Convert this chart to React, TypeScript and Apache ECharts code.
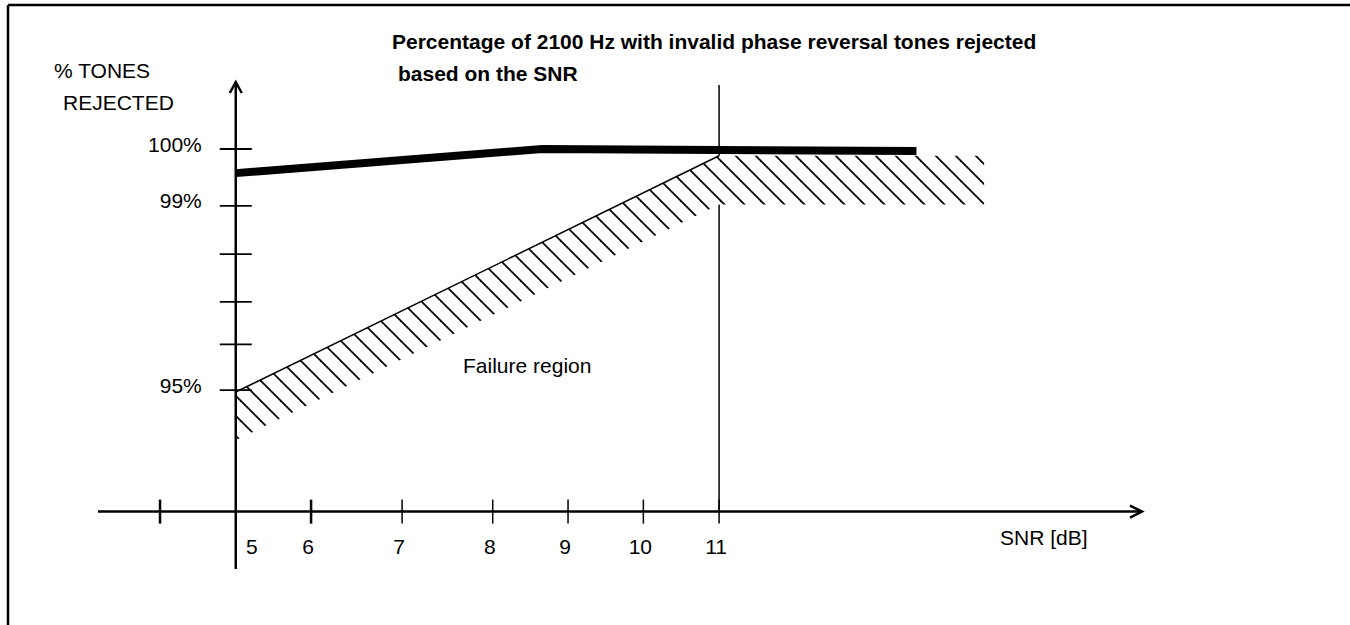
import React, { useEffect, useRef } from "react";
import * as echarts from "echarts";

// ---- axis extents (data units: SNR in dB, % tones rejected) ----
const X_MIN = 3.29;
const X_MAX = 16.25;
const Y_MIN = 91.29;
const Y_MAX = 101.39;
const X_AXIS_LEVEL = 92.48; // % level at which the SNR axis is drawn
const Y_AXIS_AT = 5; // SNR at which the % axis is drawn

// ---- ticks ----
const xTickValues = [4.06, 5.935, 7.065, 8.19, 9.125, 10.06, 11];
const xTickHeavy = [true, true, false, false, false, false, false];
const xLabelValues = [5, 5.935, 7.065, 8.19, 9.125, 10.06, 11];
const xLabels = ["5", "6", "7", "8", "9", "10", "11"];

const yTickValues = [100, 98.82, 97.82, 96.83, 95.95, 95];
const yTickLabels = ["100%", "99%", "", "", "", "95%"];

// ---- series ----
const rejectedX = [5, 8.8, 13.45];
const rejectedY = [99.5, 100.0, 99.96];

const bandX = [5, 11, 14.29];
const bandUpper = [94.96, 99.86, 99.86];
const bandLower = [93.96, 98.85, 98.85];

const thresholdX = 11;
const thresholdTop = 101.33;

const FONT = '"Liberation Sans", Arial, Helvetica, sans-serif';

function makeHatch(): HTMLCanvasElement {
  const c = document.createElement("canvas");
  c.width = 20;
  c.height = 20;
  const ctx = c.getContext("2d")!;
  ctx.fillStyle = "#ffffff";
  ctx.fillRect(0, 0, 20, 20);
  ctx.strokeStyle = "#000000";
  ctx.lineWidth = 1.8;
  for (const off of [-20, 0, 20]) {
    ctx.beginPath();
    ctx.moveTo(off - 2, -2);
    ctx.lineTo(off + 22, 22);
    ctx.stroke();
  }
  return c;
}

export default function App() {
  const ref = useRef<HTMLDivElement>(null);

  useEffect(() => {
    if (!ref.current) return;
    const chart = echarts.init(ref.current, undefined, { renderer: "svg" });
    const hatch = makeHatch();

    const txt = (text: string, x: number, y: number, align: string, extra: any = {}) => ({
      type: "text",
      style: {
        text,
        x,
        y,
        fill: "#000",
        fontSize: 21,
        fontFamily: FONT,
        align,
        textAlign: align,
        verticalAlign: "middle",
        textVerticalAlign: "middle",
        ...extra,
      },
    });

    const option: any = {
      animation: false,
      backgroundColor: "#ffffff",
      grid: { left: 98, right: 208, top: 82, bottom: 56 },
      xAxis: { type: "value", min: X_MIN, max: X_MAX, show: false },
      yAxis: { type: "value", min: Y_MIN, max: Y_MAX, show: false },
      graphic: [
        { type: "line", shape: { x1: 8, y1: 5, x2: 1350, y2: 5 }, style: { stroke: "#000", lineWidth: 2.5 } },
        { type: "line", shape: { x1: 8, y1: 5, x2: 8, y2: 625 }, style: { stroke: "#000", lineWidth: 2.5 } },
        {
          type: "text", x: 392, y: 41,
          style: { text: "Percentage of 2100 Hz with invalid phase reversal tones rejected", fill: "#000", fontSize: 21, fontWeight: "bold", fontFamily: FONT, textAlign: "left", textVerticalAlign: "middle" },
        },
        {
          type: "text", x: 398, y: 73,
          style: { text: "based on the SNR", fill: "#000", fontSize: 21, fontWeight: "bold", fontFamily: FONT, textAlign: "left", textVerticalAlign: "middle" },
        },
        { type: "text", x: 54, y: 70, style: { text: "% TONES", fill: "#000", fontSize: 21, fontFamily: FONT, textAlign: "left", textVerticalAlign: "middle" } },
        { type: "text", x: 63, y: 102, style: { text: "REJECTED", fill: "#000", fontSize: 21, fontFamily: FONT, textAlign: "left", textVerticalAlign: "middle" } },
        { type: "text", x: 463, y: 365, style: { text: "Failure region", fill: "#000", fontSize: 21, fontFamily: FONT, textAlign: "left", textVerticalAlign: "middle" } },
        { type: "text", x: 1000, y: 537, style: { text: "SNR [dB]", fill: "#000", fontSize: 21, fontFamily: FONT, textAlign: "left", textVerticalAlign: "middle" } },
      ],
      series: [
        {
          name: "threshold",
          type: "line",
          z: 1,
          symbol: "none",
          silent: true,
          data: [[thresholdX, X_AXIS_LEVEL], [thresholdX, thresholdTop]],
          lineStyle: { color: "#000", width: 1.5 },
        },
        {
          name: "Failure region",
          type: "custom",
          z: 2,
          silent: true,
          data: [[bandX[0], bandUpper[0]]],
          renderItem: (_p: any, api: any) => {
            const pts: number[][] = [];
            for (let i = 0; i < bandX.length; i++) pts.push(api.coord([bandX[i], bandUpper[i]]));
            for (let i = bandX.length - 1; i >= 0; i--) pts.push(api.coord([bandX[i], bandLower[i]]));
            return {
              type: "polygon",
              shape: { points: pts },
              style: { fill: { image: hatch, repeat: "repeat", imageWidth: 20, imageHeight: 20 }, stroke: "none" },
            };
          },
        },
        {
          name: "boundary",
          type: "line",
          z: 3,
          symbol: "none",
          silent: true,
          data: [[bandX[0], bandUpper[0]], [bandX[1], bandUpper[1]]],
          lineStyle: { color: "#000", width: 1.5 },
        },
        {
          name: "axes",
          type: "custom",
          z: 4,
          silent: true,
          data: [[X_MIN, X_AXIS_LEVEL]],
          renderItem: (_p: any, api: any) => {
            const children: any[] = [];
            const [xl, ya] = api.coord([X_MIN, X_AXIS_LEVEL]);
            const [xr] = api.coord([X_MAX, X_AXIS_LEVEL]);
            const [xa, yb] = api.coord([Y_AXIS_AT, Y_MIN]);
            const [, yt] = api.coord([Y_AXIS_AT, Y_MAX]);
            const st = { stroke: "#000", lineWidth: 2.5, fill: "none" };
            // SNR axis
            children.push({ type: "line", shape: { x1: xl, y1: ya, x2: xr - 1, y2: ya }, style: st });
            children.push({ type: "polyline", shape: { points: [[xr - 12, ya - 6], [xr, ya], [xr - 12, ya + 6]] }, style: st });
            // % axis
            children.push({ type: "line", shape: { x1: xa, y1: yb, x2: xa, y2: yt + 1 }, style: st });
            children.push({ type: "polyline", shape: { points: [[xa - 6, yt + 11], [xa, yt], [xa + 6, yt + 11]] }, style: st });
            // x ticks
            xTickValues.forEach((v, i) => {
              const [tx] = api.coord([v, X_AXIS_LEVEL]);
              children.push({
                type: "line",
                shape: { x1: tx, y1: ya - 12, x2: tx, y2: ya + 12 },
                style: { stroke: "#000", lineWidth: xTickHeavy[i] ? 2.5 : 1.5 },
              });
            });
            xLabelValues.forEach((v, i) => {
              const [lx] = api.coord([v, X_AXIS_LEVEL]);
              children.push(txt(xLabels[i], lx + (i === 0 ? 16 : -3), ya + 35, "center"));
            });
            // y ticks
            yTickValues.forEach((v, i) => {
              const [, ty] = api.coord([Y_AXIS_AT, v]);
              children.push({
                type: "line",
                shape: { x1: xa - 16, y1: ty, x2: xa + 16, y2: ty },
                style: { stroke: "#000", lineWidth: 1.8 },
              });
              if (yTickLabels[i]) children.push(txt(yTickLabels[i], xa - 34, ty - 5, "right"));
            });
            return { type: "group", children };
          },
        },
        {
          name: "% tones rejected",
          type: "line",
          z: 5,
          symbol: "none",
          silent: true,
          data: rejectedX.map((x, i) => [x, rejectedY[i]]),
          lineStyle: { color: "#000", width: 8, cap: "butt", join: "miter" },
        },
      ],
    };

    chart.setOption(option);
    return () => chart.dispose();
  }, []);

  return (
    <div
      ref={ref}
      style={{ position: "absolute", left: 0, top: 0, width: 1350, height: 625, background: "#fff" }}
    />
  );
}
